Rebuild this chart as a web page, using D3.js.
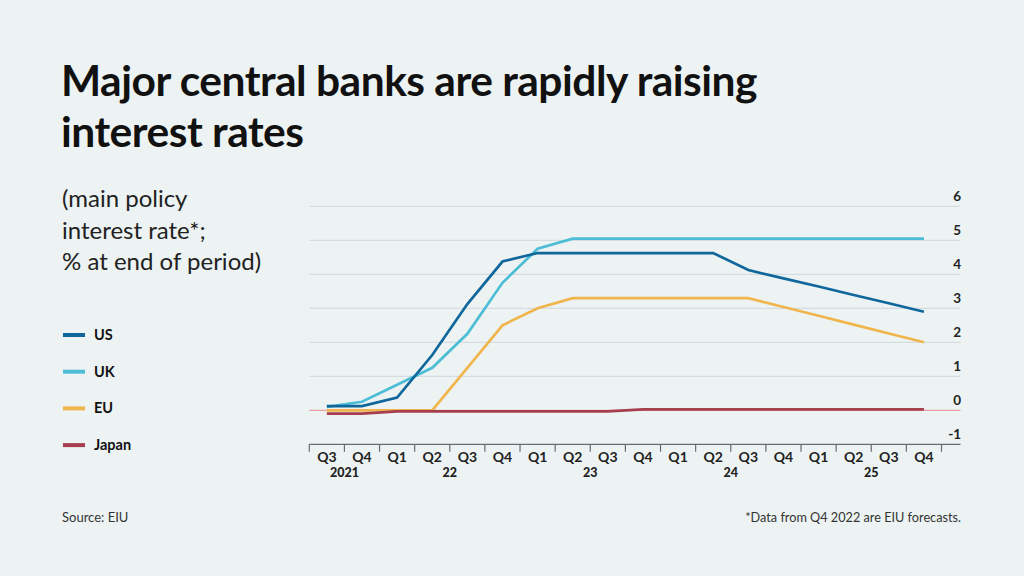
<!DOCTYPE html>
<html lang="en">
<head>
	<meta charset="UTF-8"/>
	<title>Major central banks are rapidly raising interest rates</title>
	<script src="https://d3js.org/d3.v7.min.js"></script>
	<style>
		body { margin: 0; background: #edf3f3; }
		svg { display: block; }
	</style>
</head>
<body>
	<div id="chart-container"></div>

	<script>
	var w = 1024;
	var h = 576;

	// data
	var quarters = ["Q3","Q4","Q1","Q2","Q3","Q4","Q1","Q2","Q3","Q4","Q1","Q2","Q3","Q4","Q1","Q2","Q3","Q4"];
	var years = ["2021","2021","22","22","22","22","23","23","23","23","24","24","24","24","25","25","25","25"];
	var us = [0.125,0.125,0.375,1.625,3.125,4.375,4.625,4.625,4.625,4.625,4.625,4.625,4.125,3.88,3.64,3.39,3.15,2.9];
	var uk = [0.1,0.25,0.75,1.25,2.25,3.75,4.75,5.05,5.05,5.05,5.05,5.05,5.05,5.05,5.05,5.05,5.05,5.05];
	var eu = [0,0,0,0,1.25,2.5,3.0,3.3,3.3,3.3,3.3,3.3,3.3,3.04,2.78,2.52,2.26,2.0];
	var japan = [-0.1,-0.1,-0.03,-0.03,-0.03,-0.03,-0.03,-0.03,-0.03,0.03,0.03,0.03,0.03,0.03,0.03,0.03,0.03,0.03];
	var yTicks = [-1,0,1,2,3,4,5,6];

	var seriesNames = ["US","UK","EU","Japan"];
	var seriesColors = ["#0f679c","#4dbdd5","#f0b54c","#a53f50"];
	var seriesValues = [us, uk, eu, japan];

	var svg = d3.select("#chart-container")
		.append("svg")
		.attr("width", w)
		.attr("height", h)
		.style("font-family", "Lato, 'Open Sans', sans-serif");

	svg.append("rect")
		.attr("width", w)
		.attr("height", h)
		.attr("fill", "#edf3f3");

	// title
	var title = svg.append("text")
		.attr("font-size", "42.5px")
		.attr("font-weight", 700)
		.attr("fill", "#111")
		.style("letter-spacing", "-0.5px");
	title.append("tspan").attr("x", 61).attr("y", 96).text("Major central banks are rapidly raising");
	title.append("tspan").attr("x", 61).attr("y", 147).text("interest rates");

	// subtitle
	var sub = svg.append("text")
		.attr("font-size", "24px")
		.attr("fill", "#222");
	["(main policy", "interest rate*;", "% at end of period)"].forEach(function (t, i) {
		sub.append("tspan").attr("x", 62).attr("y", 207 + i * 31.5).text(t);
	});

	// scales
	var xScale = d3.scaleBand()
		.domain(d3.range(quarters.length))
		.range([309.3, 941.5])
		.paddingInner(0)
		.paddingOuter(0);

	var yScale = d3.scaleLinear()
		.domain([-1, 6])
		.range([444.3, 206.3]);

	var xLeft = 309.3;
	var xRight = 960.5;

	// gridlines
	svg.selectAll(".grid")
		.data(yTicks.filter(function (d) { return d > 0; }))
		.enter()
		.append("line")
		.attr("class", "grid")
		.attr("x1", xLeft)
		.attr("x2", xRight)
		.attr("y1", function (d) { return yScale(d); })
		.attr("y2", function (d) { return yScale(d); })
		.attr("stroke", "#cfd6de")
		.attr("stroke-width", 1);

	// y labels
	svg.selectAll(".ylab")
		.data(yTicks)
		.enter()
		.append("text")
		.attr("class", "ylab")
		.attr("x", 961)
		.attr("y", function (d) { return yScale(d) - 5; })
		.attr("text-anchor", "end")
		.attr("font-size", "13.5px")
		.attr("font-weight", 700)
		.attr("fill", "#222")
		.text(function (d) { return d; });

	// x axis
	var axis = svg.append("g");
	axis.append("line")
		.attr("x1", xLeft)
		.attr("x2", xRight)
		.attr("y1", yScale(-1))
		.attr("y2", yScale(-1))
		.attr("stroke", "#6b6b6b")
		.attr("stroke-width", 1.2);

	var edges = d3.range(quarters.length + 1).map(function (i) {
		return xScale.range()[0] + i * xScale.bandwidth();
	});
	axis.selectAll(".tick")
		.data(edges)
		.enter()
		.append("line")
		.attr("x1", function (d) { return d; })
		.attr("x2", function (d) { return d; })
		.attr("y1", yScale(-1))
		.attr("y2", yScale(-1) + 7.5)
		.attr("stroke", "#6b6b6b")
		.attr("stroke-width", 1.2);

	axis.selectAll(".qlab")
		.data(quarters)
		.enter()
		.append("text")
		.attr("x", function (d, i) { return xScale(i) + xScale.bandwidth() / 2; })
		.attr("y", 462)
		.attr("text-anchor", "middle")
		.attr("font-size", "14px")
		.attr("font-weight", 700)
		.attr("fill", "#222")
		.text(function (d) { return d; });

	var yearGroups = d3.groups(d3.range(years.length), function (i) { return years[i]; });
	axis.selectAll(".year")
		.data(yearGroups)
		.enter()
		.append("text")
		.attr("x", function (g) {
			var idx = g[1];
			return (xScale(idx[0]) + xScale(idx[idx.length - 1]) + xScale.bandwidth()) / 2;
		})
		.attr("y", 477)
		.attr("text-anchor", "middle")
		.attr("font-size", "12.5px")
		.attr("font-weight", 900)
		.attr("fill", "#222")
		.text(function (g) { return g[0]; });

	// zero line
	svg.append("line")
		.attr("x1", xLeft)
		.attr("x2", xRight)
		.attr("y1", yScale(0))
		.attr("y2", yScale(0))
		.attr("stroke", "#e98a92")
		.attr("stroke-width", 1);

	// lines
	var line = d3.line()
		.x(function (d, i) { return xScale(i) + xScale.bandwidth() / 2; })
		.y(function (d) { return yScale(d); });

	var drawOrder = [1, 0, 2, 3];
	drawOrder.forEach(function (k) {
		svg.append("path")
			.datum(seriesValues[k])
			.attr("d", line)
			.attr("fill", "none")
			.attr("stroke", seriesColors[k])
			.attr("stroke-width", 2.7)
			.attr("stroke-linejoin", "miter");
	});

	// legend
	var legend = svg.selectAll(".legend")
		.data(seriesNames)
		.enter()
		.append("g")
		.attr("transform", function (d, i) { return "translate(63," + (335 + i * 36.7) + ")"; });
	legend.append("line")
		.attr("x1", 0)
		.attr("x2", 22)
		.attr("stroke", function (d, i) { return seriesColors[i]; })
		.attr("stroke-width", 4);
	legend.append("text")
		.attr("x", 31)
		.attr("y", 5)
		.attr("font-size", "14.5px")
		.attr("font-weight", 700)
		.attr("fill", "#111")
		.text(function (d) { return d; });

	// footer
	svg.append("text")
		.attr("x", 62)
		.attr("y", 522)
		.attr("font-size", "13px")
		.attr("fill", "#333")
		.text("Source: EIU");
	svg.append("text")
		.attr("x", 961)
		.attr("y", 522)
		.attr("text-anchor", "end")
		.attr("font-size", "12.7px")
		.attr("fill", "#333")
		.text("*Data from Q4 2022 are EIU forecasts.");
	</script>
</body>
</html>
